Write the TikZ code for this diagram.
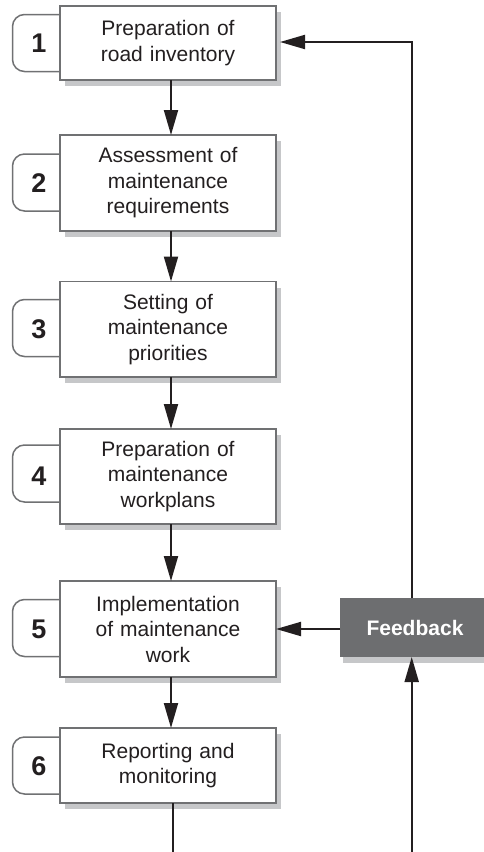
\documentclass[tikz,border=0pt]{standalone}
\usepackage{fontspec}
\setmainfont{Liberation Sans}
\usetikzlibrary{shadows,arrows.meta,calc}
\definecolor{bordergray}{HTML}{707173}
\definecolor{shadowgray}{HTML}{C6C7C9}
\definecolor{fbgray}{HTML}{6D6E70}
\definecolor{ink}{HTML}{231F20}
\begin{document}
\begin{tikzpicture}[x=1pt,y=-1pt,
  stepbox/.style={rectangle, draw=bordergray, line width=1.5pt, fill=white,
    minimum width=216pt, text width=210pt, align=center, inner sep=0pt, outer sep=0pt,
    font=\fontsize{21}{25.5}\selectfont, text=ink,
    drop shadow={shadow xshift=5pt, shadow yshift=-6pt, fill=shadowgray, opacity=1}},
  tabshape/.style={draw=bordergray, line width=1.5pt, fill=white, rounded corners=12pt},
  numlabel/.style={font=\fontsize{27}{27}\selectfont\bfseries, text=ink, inner sep=0pt},
  arr/.style={draw=ink, line width=2pt, -{Triangle[length=25pt,width=14pt]}},
  plainline/.style={draw=ink, line width=2pt},
  fbbox/.style={rectangle, fill=fbgray, minimum width=150pt, minimum height=59pt,
    inner sep=0pt, outer sep=0pt, text=white, font=\fontsize{21}{25}\selectfont\bfseries,
    drop shadow={shadow xshift=3pt, shadow yshift=-6pt, fill=shadowgray, opacity=1}}
]
\useasboundingbox (0,0) rectangle (483,852);

% tabs
\foreach \c in {43,182.5,328,473.5,628,765.5}{
  \draw[tabshape] (60,\c-28.5) -- (12.5,\c-28.5) -- (12.5,\c+28.5) -- (60,\c+28.5);
}

% boxes
\node[stepbox, minimum height=74pt] (b1) at (168,43) {Preparation of\\road inventory};
\node[stepbox, minimum height=96pt] (b2) at (168,183) {Assessment of\\maintenance\\requirements};
\node[stepbox, minimum height=95.5pt] (b3) at (168,329.25) {Setting of\\maintenance\\priorities};
\node[stepbox, minimum height=95pt] (b4) at (168,476.5) {Preparation of\\maintenance\\workplans};
\node[stepbox, minimum height=96pt] (b5) at (168,629) {Implementation\\of maintenance\\work};
\node[stepbox, minimum height=75pt] (b6) at (168,765.5) {Reporting and\\monitoring};

% numbers
\node[numlabel] (n1) at (39,43) {1};
\node[numlabel] (n2) at (39,183) {2};
\node[numlabel] (n3) at (39,329) {3};
\node[numlabel] (n4) at (39,476) {4};
\node[numlabel] (n5) at (39,629) {5};
\node[numlabel] (n6) at (39,766) {6};

% feedback
\node[fbbox] (fb) at (415,627.5) {Feedback};

\coordinate (vx) at (411.7,0);
\coordinate (bot6) at (173,852);
\coordinate (botfb) at (411.7,852);

% arrows between steps
\draw[arr] ([xshift=3pt]b1.south) -- ([xshift=3pt]b2.north);
\draw[arr] ([xshift=3pt]b2.south) -- ([xshift=3pt]b3.north);
\draw[arr] ([xshift=3pt]b3.south) -- ([xshift=3pt]b4.north);
\draw[arr] ([xshift=3pt]b4.south) -- ([xshift=3pt]b5.north);
\draw[arr] ([xshift=3pt]b5.south) -- ([xshift=3pt]b6.north);

% feedback loop
\draw[plainline] (b6.south -| bot6) -- (bot6);
\draw[arr] (botfb) -- (fb.south -| botfb);
\draw[arr] (fb.north -| vx) |- ([xshift=4pt,yshift=1pt]b1.east);
\draw[arr] (fb.west |- b5.east) -- (b5.east);
\end{tikzpicture}
\end{document}
